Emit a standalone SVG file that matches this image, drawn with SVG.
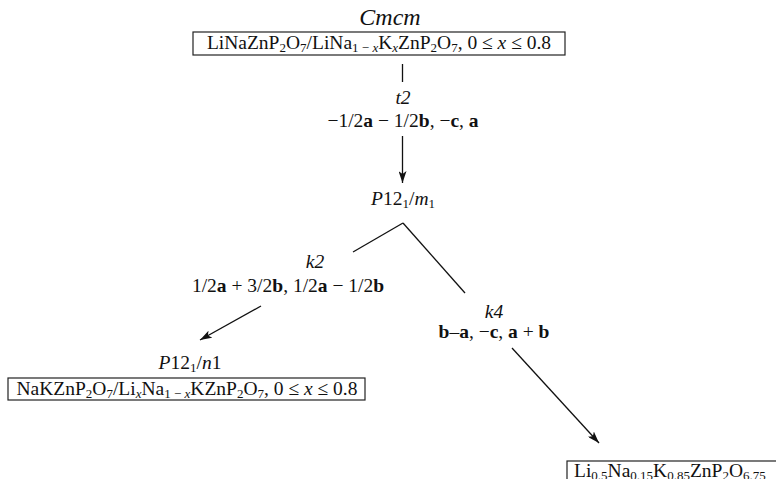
<svg xmlns="http://www.w3.org/2000/svg" width="776" height="479" viewBox="0 0 776 479" font-family="'Liberation Serif', 'Times New Roman', serif">
<defs>
<style>
text{font-family:'Liberation Serif','Times New Roman',serif;font-size:19.5px;fill:#111}
.i{font-style:italic}
.b{font-weight:bold}
.s{font-size:13px}
.box{fill:none;stroke:#222;stroke-width:1.2}
.ln{fill:none;stroke:#111;stroke-width:1.3}
</style>
<marker id="ah" viewBox="0 0 12 8" refX="12" refY="4" markerWidth="12" markerHeight="8" markerUnits="userSpaceOnUse" orient="auto">
<path d="M0,0 L12,4 L0,8 L3,4 Z" fill="#111"/>
</marker>
</defs>
<rect width="776" height="479" fill="#fff"/>
<g id="connectors">
<line class="ln" x1="402.5" y1="64" x2="402.5" y2="82"/>
<line class="ln" x1="402.5" y1="136" x2="402.5" y2="183" marker-end="url(#ah)"/>
<line class="ln" x1="403" y1="223" x2="353" y2="252"/>
<line class="ln" x1="403" y1="223" x2="465" y2="293"/>
<line class="ln" x1="261" y1="306" x2="200" y2="340" marker-end="url(#ah)"/>
<line class="ln" x1="512" y1="348" x2="599" y2="443" marker-end="url(#ah)"/>
</g>
<g id="label-t2">
<text x="403" y="104" text-anchor="middle" class="i">t2</text>
<text x="403" y="127" text-anchor="middle">−1/2<tspan class="b">a</tspan> − 1/2<tspan class="b">b</tspan>, −<tspan class="b">c</tspan>, <tspan class="b">a</tspan></text>
</g>
<g id="label-k2">
<text x="315" y="268" text-anchor="middle" class="i">k2</text>
<text x="288" y="292" text-anchor="middle">1/2<tspan class="b">a</tspan> + 3/2<tspan class="b">b</tspan>, 1/2<tspan class="b">a</tspan> − 1/2<tspan class="b">b</tspan></text>
</g>
<g id="label-k4">
<text x="494" y="318" text-anchor="middle" class="i">k4</text>
<text x="494" y="338" text-anchor="middle"><tspan class="b">b</tspan>–<tspan class="b">a</tspan>, −<tspan class="b">c</tspan>, <tspan class="b">a</tspan> + <tspan class="b">b</tspan></text>
</g>
<g id="node-cmcm">
<text x="390" y="25" text-anchor="middle" class="i" style="font-size:24px">Cmcm</text>
<rect class="box" x="193" y="32" width="372" height="23"/>
<text x="379" y="49" text-anchor="middle">LiNaZnP<tspan class="s" baseline-shift="-3">2</tspan>O<tspan class="s" baseline-shift="-3">7</tspan>/LiNa<tspan class="s" baseline-shift="-3">1 − <tspan class="i">x</tspan></tspan>K<tspan class="s i" baseline-shift="-3">x</tspan>ZnP<tspan class="s" baseline-shift="-3">2</tspan>O<tspan class="s" baseline-shift="-3">7</tspan>, 0 ≤ <tspan class="i">x</tspan> ≤ 0.8</text>
</g>
<g id="node-p121m1">
<text x="403" y="205" text-anchor="middle"><tspan class="i">P</tspan>12<tspan class="s" baseline-shift="-3">1</tspan>/<tspan class="i">m</tspan><tspan class="s" baseline-shift="-3">1</tspan></text>
</g>
<g id="node-p121n1">
<text x="190" y="369" text-anchor="middle"><tspan class="i">P</tspan>12<tspan class="s" baseline-shift="-3">1</tspan>/<tspan class="i">n</tspan>1</text>
<rect class="box" x="8" y="378" width="357" height="22"/>
<text x="187" y="395" text-anchor="middle">NaKZnP<tspan class="s" baseline-shift="-3">2</tspan>O<tspan class="s" baseline-shift="-3">7</tspan>/Li<tspan class="s i" baseline-shift="-3">x</tspan>Na<tspan class="s" baseline-shift="-3">1 − <tspan class="i">x</tspan></tspan>KZnP<tspan class="s" baseline-shift="-3">2</tspan>O<tspan class="s" baseline-shift="-3">7</tspan>, 0 ≤ <tspan class="i">x</tspan> ≤ 0.8</text>
</g>
<g id="node-li05">
<rect class="box" x="567" y="461" width="220" height="24"/>
<text x="574" y="477">Li<tspan class="s" baseline-shift="-3">0.5</tspan>Na<tspan class="s" baseline-shift="-3">0.15</tspan>K<tspan class="s" baseline-shift="-3">0.85</tspan>ZnP<tspan class="s" baseline-shift="-3">2</tspan>O<tspan class="s" baseline-shift="-3">6.75</tspan></text>
</g>
</svg>
